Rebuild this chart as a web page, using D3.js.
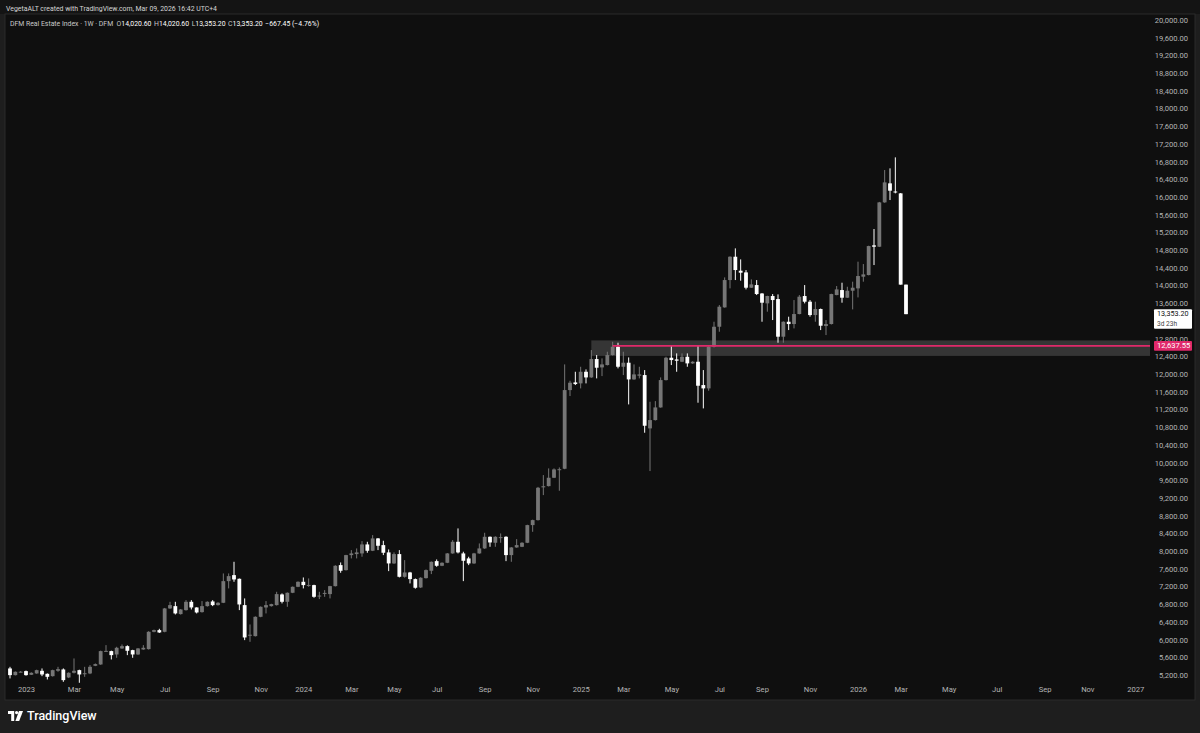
<!DOCTYPE html>
<html>
<head>
<meta charset="utf-8">
<script src="https://cdn.jsdelivr.net/npm/d3@7"></script>
<style>
  html, body { margin: 0; padding: 0; background: #1e1e1e; }
  svg { display: block; }
  text { font-family: Roboto, "Liberation Sans", sans-serif; }
</style>
</head>
<body>
<svg id="chart" width="1200" height="733"></svg>
<script>
// ---------------- DATA ----------------
const firstBar = "2022-12-12";          // weekly bars (Monday)
const skippedWeeks = ["2024-04-08"];    // no trading that week (Eid holiday)

const barOpen = [5348,5197,5270,5288,5205,5235,5295,5227,5174,5295,5325,5144,5250,5310,5230,5235,5408,5438,5735,5740,
5664,5800,5852,5762,5664,5777,5785,6176,6214,6176,6704,6756,6576,6666,6854,6726,6621,6756,6862,6779,
6832,7321,7457,7374,6779,6095,6078,6515,6726,6756,6779,7020,6854,7058,7193,7306,7225,7231,6985,7040,
7028,7208,7683,7570,7909,7932,7947,8150,8007,8286,8135,7970,7721,7932,7419,7517,7367,7178,7389,7555,
7773,7668,7736,7947,8210,7947,7834,7721,7947,8060,8323,8188,8300,8323,7909,8082,8097,8188,8587,8700,
9440,9468,9657,9840,9860,11638,11811,11789,12052,11924,12339,12150,12203,12429,12617,12165,12256,11879,11962,11977,
10772,10960,11246,11864,12369,12331,12278,12391,12241,12278,11751,11676,12617,13069,13506,14124,14651,14335,14297,13951,
14011,13820,13597,13763,13695,12844,13182,13130,13356,13763,13635,13333,13469,13085,13130,13785,13898,13725,13883,13936,
14200,14237,14908,14877,15879,16309,16125,16083,14020.6];

const barHigh = [5385,5280,5290,5300,5260,5320,5348,5235,5320,5385,5348,5260,5574,5320,5385,5423,5460,5750,5875,5750,
5837,5890,5870,5770,5810,5875,6190,6225,6244,6715,6854,6854,6690,6892,6892,6730,6870,6865,6892,6845,
7495,7495,7758,7380,6930,6342,6525,6750,6870,6810,7080,7043,7065,7200,7315,7404,7382,7240,7080,7118,
7215,7680,7743,7915,8022,8060,8225,8210,8361,8295,8233,8037,7970,8022,7796,7530,7380,7410,7585,7765,
7811,7745,7955,8248,8512,7985,7872,7960,8173,8414,8330,8335,8398,8335,8090,8270,8200,8595,8710,9450,
9717,9868,9868,9890,12218,11849,12052,12165,12105,12542,12429,12354,12504,12730,12708,12504,12376,12218,12165,12090,
11374,11389,11924,12391,12655,12467,12467,12467,12290,12655,12090,12630,13182,13559,14184,14660,14840,14591,14350,14139,
14124,13830,13770,13808,13800,13190,13296,13672,13785,14011,13672,13635,13480,13220,13815,13989,14064,13973,14087,14539,
14486,14900,15277,15890,16610,16648,16896,16090,14020.6];

const barLow = [5122,5190,5260,5185,5200,5228,5174,5099,5165,5273,5046,5130,5235,5024,5159,5220,5400,5430,5724,5551,
5589,5790,5649,5589,5655,5770,5775,6165,6150,6165,6695,6568,6565,6655,6681,6591,6610,6745,6756,6770,
6825,7156,7306,6666,5988,5950,6070,6505,6591,6745,6770,6817,6741,7050,7185,7156,7193,6945,6915,6967,
6930,7200,7510,7560,7834,7834,7872,7962,8000,8022,7909,7547,7710,7404,7400,7269,7150,7165,7380,7480,
7645,7660,7728,7940,7947,7321,7683,7710,7940,8050,8097,8097,8188,7773,7758,8075,8090,8180,8436,8690,
9265,9460,9650,9363,9850,11503,11751,11676,11789,11915,11902,11954,12195,12420,12128,11977,11314,11870,11902,10674,
9808,10950,11240,11855,12203,12052,12270,12165,12230,11352,11224,11623,12600,12956,13500,13936,14124,14109,13913,13945,
13785,13182,13409,13220,12708,12708,12994,13032,13350,13597,13296,13182,12994,12881,13120,13780,13612,13720,13461,13732,
14087,14230,14463,14870,15870,15932,16083,14020,13353.2];

const barClose = [5197,5273,5275,5197,5250,5310,5212,5159,5310,5333,5084,5250,5295,5212,5240,5385,5446,5740,5745,5649,
5815,5852,5747,5664,5800,5815,6176,6214,6161,6704,6779,6591,6681,6854,6726,6613,6756,6854,6779,6832,
7321,7434,7359,6794,6048,6110,6515,6741,6779,6802,7028,6854,7058,7193,7306,7231,7235,6967,6995,7055,
7208,7668,7555,7909,7947,7970,8150,8007,8286,8120,7962,7721,7932,7419,7517,7367,7171,7397,7570,7758,
7668,7736,7947,8210,7970,7781,7721,7947,8060,8323,8195,8323,8315,7909,8082,8135,8188,8587,8700,9431,
9465,9657,9845,9850,11638,11804,11774,12052,11924,12339,12143,12218,12429,12617,12165,12256,11879,11992,11992,10832,
10960,11246,11864,12369,12316,12301,12391,12241,12278,11736,11676,12617,13069,13522,14124,14651,14350,14290,13951,14026,
13808,13612,13763,13672,12844,13182,13130,13356,13748,13635,13333,13469,13092,13130,13808,13913,13725,13883,13951,14215,
14252,14892,14877,15879,16331,16143,16105,14020.6,13353.2];

const priceTicks = [5200,5600,6000,6400,6800,7200,7600,8000,8400,8800,9200,9600,10000,10400,10800,11200,11600,12000,
12400,12800,13200,13600,14000,14400,14800,15200,15600,16000,16400,16800,17200,17600,18000,18400,18800,19200,19600,20000];

const timeTickLabels = ["2023","Mar","May","Jul","Sep","Nov","2024","Mar","May","Jul","Sep","Nov",
                        "2025","Mar","May","Jul","Sep","Nov","2026","Mar","May","Jul","Sep","Nov","2027"];
const timeTickMonths = ["2023-01","2023-03","2023-05","2023-07","2023-09","2023-11","2024-01","2024-03","2024-05","2024-07","2024-09","2024-11",
                        "2025-01","2025-03","2025-05","2025-07","2025-09","2025-11","2026-01","2026-03","2026-05","2026-07","2026-09","2026-11","2027-01"];

const zoneTop = 12760, zoneBottom = 12410, zoneStartBar = 109;   // grey zone
const levelPrice = 12637.55, levelStartBar = 113;                // pink horizontal ray
const lastPrice = 13353.20, lastPriceTimer = "3d 23h";

const headerLine1 = "VegetaALT created with TradingView.com, Mar 09, 2026 16:42 UTC+4";
const symbolTitle = "DFM Real Estate Index · 1W · DFM";
const legendKeys = ["O","H","L","C",""];
const legendValues = ["14,020.60","14,020.60","13,353.20","13,353.20","−667.45 (−4.76%)"];

// ---------------- BUILD DATES ----------------
const parseDay = d3.utcParse("%Y-%m-%d");
const skipSet = new Set(skippedWeeks);
const allWeeks = d3.utcMonday.range(parseDay(firstBar), parseDay("2027-03-01"));
const barDates = allWeeks.filter(d => !skipSet.has(d3.utcFormat("%Y-%m-%d")(d)));
const bars = barOpen.map((o, i) => ({ i, date: barDates[i], o, h: barHigh[i], l: barLow[i], c: barClose[i] }));

// ---------------- LAYOUT ----------------
const svg = d3.select("#chart");
const W = 1200, H = 733;
const paneLeft = 5, paneTop = 14, paneRight = 1195, paneBottom = 700, plotRight = 1150;

svg.append("rect").attr("x",0).attr("y",0).attr("width",W).attr("height",H).attr("fill","#1e1e1e");
svg.append("rect").attr("x",0).attr("y",0).attr("width",W).attr("height",paneTop).attr("fill","#141414");
svg.append("rect").attr("x",paneLeft).attr("y",paneTop).attr("width",paneRight-paneLeft).attr("height",paneBottom-paneTop)
   .attr("fill","#0f0f0f").attr("stroke","#2b2b2b").attr("stroke-width",1);

const x = d3.scaleLinear().domain([0, 168]).range([10, 906]);
const y = d3.scaleLinear().domain([5200, 20000]).range([675, 20]);

// zone
svg.append("rect")
  .attr("x", x(zoneStartBar)).attr("y", y(zoneTop))
  .attr("width", plotRight - x(zoneStartBar)).attr("height", y(zoneBottom) - y(zoneTop))
  .attr("fill", "rgba(255,255,255,0.16)");

// candles
const upColor = "#767676", downColor = "#ffffff";
const bw = 3.8;
const g = svg.append("g");
g.selectAll("line.wick").data(bars).join("line")
  .attr("x1", d => x(d.i)).attr("x2", d => x(d.i))
  .attr("y1", d => y(d.h)).attr("y2", d => y(d.l))
  .attr("stroke", d => d.c >= d.o ? upColor : downColor).attr("stroke-width", 1);
g.selectAll("rect.body").data(bars).join("rect")
  .attr("x", d => x(d.i) - bw/2)
  .attr("y", d => y(Math.max(d.o, d.c)))
  .attr("width", bw)
  .attr("height", d => Math.max(1, Math.abs(y(d.o) - y(d.c))))
  .attr("fill", d => d.c >= d.o ? upColor : downColor);

// pink level
svg.append("line")
  .attr("x1", x(levelStartBar)).attr("x2", plotRight)
  .attr("y1", y(levelPrice)).attr("y2", y(levelPrice))
  .attr("stroke", "#e0296a").attr("stroke-width", 1.6);

// price axis (labels hidden where the last-price box sits, as TradingView does)
const fmt = d3.format(",.2f");
const lpY = y(lastPrice);
const shownPriceTicks = priceTicks.filter(v => Math.abs(y(v) - (lpY + 5)) > 11);
const yAxis = d3.axisRight(y).tickValues(shownPriceTicks).tickFormat(fmt).tickSize(0).tickPadding(0);
const ya = svg.append("g").attr("transform", `translate(1188,0)`).call(yAxis);
ya.select(".domain").remove();
ya.selectAll("text").attr("text-anchor","end").attr("fill","#b4b4b4").style("font-size","7.6px");

// time axis
function barIndexFor(monthStr) {
  const t = d3.utcParse("%Y-%m")(monthStr);
  return barDates.findIndex(d => d >= t);
}
const tickIdx = timeTickMonths.map(barIndexFor);
const xAxis = d3.axisBottom(x).tickValues(tickIdx).tickFormat((d, i) => timeTickLabels[i]).tickSize(0).tickPadding(0);
const xa = svg.append("g").attr("transform", `translate(0,690)`).call(xAxis);
xa.select(".domain").remove();
xa.selectAll("text").attr("fill","#b4b4b4").style("font-size","7.6px").attr("dy","0.32em");

// last price label
svg.append("rect").attr("x",1154).attr("y",lpY-5).attr("width",38).attr("height",19.5).attr("fill","#ffffff").attr("rx",1);
svg.append("text").attr("x",1157).attr("y",lpY-0.3).attr("dy","0.35em").attr("fill","#111").style("font-size","7.2px").text(fmt(lastPrice));
svg.append("text").attr("x",1157).attr("y",lpY+9.6).attr("dy","0.35em").attr("fill","#444").style("font-size","6.6px").text(lastPriceTimer);

// level label
const lvY = y(levelPrice);
svg.append("rect").attr("x",1154).attr("y",lvY-4.8).attr("width",38).attr("height",9.6).attr("fill","#e0296a").attr("rx",1);
svg.append("text").attr("x",1157).attr("y",lvY).attr("dy","0.35em").attr("fill","#ffffff").style("font-size","7.6px").text(fmt(levelPrice));

// header line 1
svg.append("text").attr("x",6).attr("y",8).attr("dy","0.35em").attr("fill","#d4d4d4").style("font-size","8px")
  .attr("textLength", 211).attr("lengthAdjust","spacingAndGlyphs").text(headerLine1);

// legend line: separate text pieces laid out left to right, sized to reference width
const legendG = svg.append("g");
const pieces = [{t: symbolTitle, c: "#c8c8c8", gap: 4}];
legendKeys.forEach((k, i) => {
  if (k) pieces.push({t: k, c: "#c8c8c8", gap: 0});
  pieces.push({t: legendValues[i], c: "#ffffff", gap: 3});
});
function layoutLegend(fs) {
  legendG.selectAll("*").remove();
  let cx = 10;
  pieces.forEach(p => {
    const t = legendG.append("text").attr("x", cx).attr("y", 24).attr("dy","0.35em")
      .attr("fill", p.c).style("font-size", fs + "px").text(p.t);
    cx += t.node().getComputedTextLength() + p.gap * fs / 8;
  });
  return cx - 10;
}
let total = layoutLegend(8);
layoutLegend(8 * 312 / total);

// TradingView logo
const logo = svg.append("g").attr("fill","#ffffff");
logo.append("path").attr("d","M8,711 H14.2 V721 H11.2 V714 H8 Z");
logo.append("circle").attr("cx",16.6).attr("cy",712.6).attr("r",1.6);
logo.append("path").attr("d","M19,711 H23 L19.2,721 H15.4 Z");
svg.append("text").attr("x",27).attr("y",716).attr("dy","0.35em").attr("fill","#ffffff")
  .style("font-size","12.5px").style("font-weight","500").text("TradingView");
</script>
</body>
</html>
